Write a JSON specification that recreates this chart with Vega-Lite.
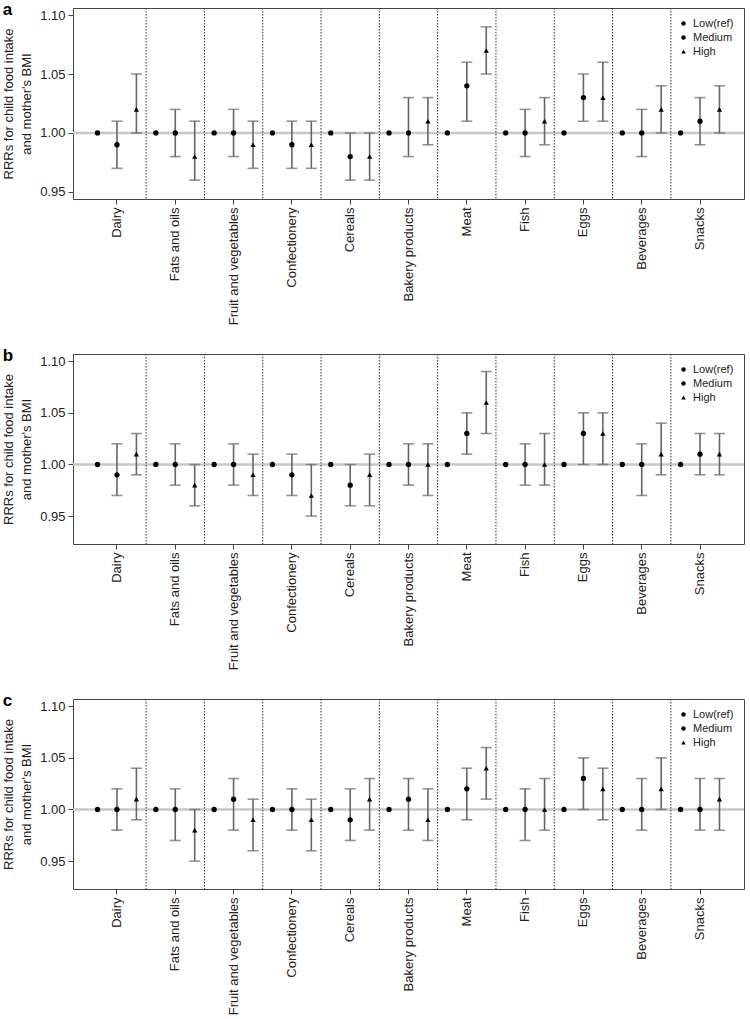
{
  "$schema": "https://vega.github.io/schema/vega-lite/v6.json",
  "padding": {"left": 2, "top": 0, "right": 1, "bottom": 0},
  "spacing": 20,
  "config": {
    "font": "Liberation Sans",
    "view": {"stroke": "#444", "strokeWidth": 1},
    "axis": {"labelFont": "Liberation Sans", "labelFontSize": 13, "labelColor": "#222", "titleFont": "Liberation Sans", "titleFontSize": 13, "titleFontWeight": "normal", "titleColor": "#222", "grid": false, "domain": false, "tickColor": "#444", "tickSize": 5},
    "title": {"anchor": "start", "frame": "bounds", "fontSize": 17, "fontWeight": "bold", "font": "Liberation Sans", "offset": -11, "baseline": "alphabetic", "color": "#000"},
    "legend": {"orient": "top-right", "offset": 10, "title": null, "labelFontSize": 11, "labelFont": "Liberation Sans", "labelColor": "#222", "symbolSize": 20, "rowPadding": 2, "padding": 0, "symbolFillColor": "#000", "symbolStrokeColor": "#000", "symbolStrokeWidth": 0}
  },
  "resolve": {"scale": {"y": "independent", "shape": "independent"}, "legend": {"shape": "independent"}},
  "datasets": {
    "a": [
      {"food": "Dairy", "level": "Low(ref)", "rr": 1.00},
      {"food": "Dairy", "level": "Medium", "rr": 0.99, "lo": 0.97, "hi": 1.01},
      {"food": "Dairy", "level": "High", "rr": 1.02, "lo": 1.00, "hi": 1.05},
      {"food": "Fats and oils", "level": "Low(ref)", "rr": 1.00},
      {"food": "Fats and oils", "level": "Medium", "rr": 1.00, "lo": 0.98, "hi": 1.02},
      {"food": "Fats and oils", "level": "High", "rr": 0.98, "lo": 0.96, "hi": 1.01},
      {"food": "Fruit and vegetables", "level": "Low(ref)", "rr": 1.00},
      {"food": "Fruit and vegetables", "level": "Medium", "rr": 1.00, "lo": 0.98, "hi": 1.02},
      {"food": "Fruit and vegetables", "level": "High", "rr": 0.99, "lo": 0.97, "hi": 1.01},
      {"food": "Confectionery", "level": "Low(ref)", "rr": 1.00},
      {"food": "Confectionery", "level": "Medium", "rr": 0.99, "lo": 0.97, "hi": 1.01},
      {"food": "Confectionery", "level": "High", "rr": 0.99, "lo": 0.97, "hi": 1.01},
      {"food": "Cereals", "level": "Low(ref)", "rr": 1.00},
      {"food": "Cereals", "level": "Medium", "rr": 0.98, "lo": 0.96, "hi": 1.00},
      {"food": "Cereals", "level": "High", "rr": 0.98, "lo": 0.96, "hi": 1.00},
      {"food": "Bakery products", "level": "Low(ref)", "rr": 1.00},
      {"food": "Bakery products", "level": "Medium", "rr": 1.00, "lo": 0.98, "hi": 1.03},
      {"food": "Bakery products", "level": "High", "rr": 1.01, "lo": 0.99, "hi": 1.03},
      {"food": "Meat", "level": "Low(ref)", "rr": 1.00},
      {"food": "Meat", "level": "Medium", "rr": 1.04, "lo": 1.01, "hi": 1.06},
      {"food": "Meat", "level": "High", "rr": 1.07, "lo": 1.05, "hi": 1.09},
      {"food": "Fish", "level": "Low(ref)", "rr": 1.00},
      {"food": "Fish", "level": "Medium", "rr": 1.00, "lo": 0.98, "hi": 1.02},
      {"food": "Fish", "level": "High", "rr": 1.01, "lo": 0.99, "hi": 1.03},
      {"food": "Eggs", "level": "Low(ref)", "rr": 1.00},
      {"food": "Eggs", "level": "Medium", "rr": 1.03, "lo": 1.01, "hi": 1.05},
      {"food": "Eggs", "level": "High", "rr": 1.03, "lo": 1.01, "hi": 1.06},
      {"food": "Beverages", "level": "Low(ref)", "rr": 1.00},
      {"food": "Beverages", "level": "Medium", "rr": 1.00, "lo": 0.98, "hi": 1.02},
      {"food": "Beverages", "level": "High", "rr": 1.02, "lo": 1.00, "hi": 1.04},
      {"food": "Snacks", "level": "Low(ref)", "rr": 1.00},
      {"food": "Snacks", "level": "Medium", "rr": 1.01, "lo": 0.99, "hi": 1.03},
      {"food": "Snacks", "level": "High", "rr": 1.02, "lo": 1.00, "hi": 1.04}
    ],
    "b": [
      {"food": "Dairy", "level": "Low(ref)", "rr": 1.00},
      {"food": "Dairy", "level": "Medium", "rr": 0.99, "lo": 0.97, "hi": 1.02},
      {"food": "Dairy", "level": "High", "rr": 1.01, "lo": 0.99, "hi": 1.03},
      {"food": "Fats and oils", "level": "Low(ref)", "rr": 1.00},
      {"food": "Fats and oils", "level": "Medium", "rr": 1.00, "lo": 0.98, "hi": 1.02},
      {"food": "Fats and oils", "level": "High", "rr": 0.98, "lo": 0.96, "hi": 1.00},
      {"food": "Fruit and vegetables", "level": "Low(ref)", "rr": 1.00},
      {"food": "Fruit and vegetables", "level": "Medium", "rr": 1.00, "lo": 0.98, "hi": 1.02},
      {"food": "Fruit and vegetables", "level": "High", "rr": 0.99, "lo": 0.97, "hi": 1.01},
      {"food": "Confectionery", "level": "Low(ref)", "rr": 1.00},
      {"food": "Confectionery", "level": "Medium", "rr": 0.99, "lo": 0.97, "hi": 1.01},
      {"food": "Confectionery", "level": "High", "rr": 0.97, "lo": 0.95, "hi": 1.00},
      {"food": "Cereals", "level": "Low(ref)", "rr": 1.00},
      {"food": "Cereals", "level": "Medium", "rr": 0.98, "lo": 0.96, "hi": 1.00},
      {"food": "Cereals", "level": "High", "rr": 0.99, "lo": 0.96, "hi": 1.01},
      {"food": "Bakery products", "level": "Low(ref)", "rr": 1.00},
      {"food": "Bakery products", "level": "Medium", "rr": 1.00, "lo": 0.98, "hi": 1.02},
      {"food": "Bakery products", "level": "High", "rr": 1.00, "lo": 0.97, "hi": 1.02},
      {"food": "Meat", "level": "Low(ref)", "rr": 1.00},
      {"food": "Meat", "level": "Medium", "rr": 1.03, "lo": 1.01, "hi": 1.05},
      {"food": "Meat", "level": "High", "rr": 1.06, "lo": 1.03, "hi": 1.09},
      {"food": "Fish", "level": "Low(ref)", "rr": 1.00},
      {"food": "Fish", "level": "Medium", "rr": 1.00, "lo": 0.98, "hi": 1.02},
      {"food": "Fish", "level": "High", "rr": 1.00, "lo": 0.98, "hi": 1.03},
      {"food": "Eggs", "level": "Low(ref)", "rr": 1.00},
      {"food": "Eggs", "level": "Medium", "rr": 1.03, "lo": 1.00, "hi": 1.05},
      {"food": "Eggs", "level": "High", "rr": 1.03, "lo": 1.00, "hi": 1.05},
      {"food": "Beverages", "level": "Low(ref)", "rr": 1.00},
      {"food": "Beverages", "level": "Medium", "rr": 1.00, "lo": 0.97, "hi": 1.02},
      {"food": "Beverages", "level": "High", "rr": 1.01, "lo": 0.99, "hi": 1.04},
      {"food": "Snacks", "level": "Low(ref)", "rr": 1.00},
      {"food": "Snacks", "level": "Medium", "rr": 1.01, "lo": 0.99, "hi": 1.03},
      {"food": "Snacks", "level": "High", "rr": 1.01, "lo": 0.99, "hi": 1.03}
    ],
    "c": [
      {"food": "Dairy", "level": "Low(ref)", "rr": 1.00},
      {"food": "Dairy", "level": "Medium", "rr": 1.00, "lo": 0.98, "hi": 1.02},
      {"food": "Dairy", "level": "High", "rr": 1.01, "lo": 0.99, "hi": 1.04},
      {"food": "Fats and oils", "level": "Low(ref)", "rr": 1.00},
      {"food": "Fats and oils", "level": "Medium", "rr": 1.00, "lo": 0.97, "hi": 1.02},
      {"food": "Fats and oils", "level": "High", "rr": 0.98, "lo": 0.95, "hi": 1.00},
      {"food": "Fruit and vegetables", "level": "Low(ref)", "rr": 1.00},
      {"food": "Fruit and vegetables", "level": "Medium", "rr": 1.01, "lo": 0.98, "hi": 1.03},
      {"food": "Fruit and vegetables", "level": "High", "rr": 0.99, "lo": 0.96, "hi": 1.01},
      {"food": "Confectionery", "level": "Low(ref)", "rr": 1.00},
      {"food": "Confectionery", "level": "Medium", "rr": 1.00, "lo": 0.98, "hi": 1.02},
      {"food": "Confectionery", "level": "High", "rr": 0.99, "lo": 0.96, "hi": 1.01},
      {"food": "Cereals", "level": "Low(ref)", "rr": 1.00},
      {"food": "Cereals", "level": "Medium", "rr": 0.99, "lo": 0.97, "hi": 1.02},
      {"food": "Cereals", "level": "High", "rr": 1.01, "lo": 0.98, "hi": 1.03},
      {"food": "Bakery products", "level": "Low(ref)", "rr": 1.00},
      {"food": "Bakery products", "level": "Medium", "rr": 1.01, "lo": 0.98, "hi": 1.03},
      {"food": "Bakery products", "level": "High", "rr": 0.99, "lo": 0.97, "hi": 1.02},
      {"food": "Meat", "level": "Low(ref)", "rr": 1.00},
      {"food": "Meat", "level": "Medium", "rr": 1.02, "lo": 0.99, "hi": 1.04},
      {"food": "Meat", "level": "High", "rr": 1.04, "lo": 1.01, "hi": 1.06},
      {"food": "Fish", "level": "Low(ref)", "rr": 1.00},
      {"food": "Fish", "level": "Medium", "rr": 1.00, "lo": 0.97, "hi": 1.02},
      {"food": "Fish", "level": "High", "rr": 1.00, "lo": 0.98, "hi": 1.03},
      {"food": "Eggs", "level": "Low(ref)", "rr": 1.00},
      {"food": "Eggs", "level": "Medium", "rr": 1.03, "lo": 1.00, "hi": 1.05},
      {"food": "Eggs", "level": "High", "rr": 1.02, "lo": 0.99, "hi": 1.04},
      {"food": "Beverages", "level": "Low(ref)", "rr": 1.00},
      {"food": "Beverages", "level": "Medium", "rr": 1.00, "lo": 0.98, "hi": 1.03},
      {"food": "Beverages", "level": "High", "rr": 1.02, "lo": 1.00, "hi": 1.05},
      {"food": "Snacks", "level": "Low(ref)", "rr": 1.00},
      {"food": "Snacks", "level": "Medium", "rr": 1.00, "lo": 0.98, "hi": 1.03},
      {"food": "Snacks", "level": "High", "rr": 1.01, "lo": 0.98, "hi": 1.03}
    ]
  },
  "vconcat": [
    {
      "data": {"name": "a"},
      "title": {"text": "a"},
      "width": 671, "height": 191,
      "encoding": {
        "x": {"field": "food", "type": "nominal", "sort": null, "scale": {"domain": ["Dairy","Fats and oils","Fruit and vegetables","Confectionery","Cereals","Bakery products","Meat","Fish","Eggs","Beverages","Snacks"], "paddingInner": 0, "paddingOuter": 0.254}, "axis": {"title": null, "labelAngle": -90, "labelPadding": 3, "labelAlign": "right", "labelBaseline": "middle"}}
      },
      "layer": [
        {"data": {"values": [{"ref": 1}]}, "mark": {"type": "rule", "color": "#c8c8c8", "strokeWidth": 2.5}, "encoding": {"x": null, "y": {"field": "ref", "type": "quantitative", "scale": {"domain": [0.944, 1.106], "nice": false, "zero": false}, "axis": {"values": [0.95, 1.0, 1.05, 1.1], "format": ".2f", "tickSize": 5, "labelPadding": 3, "title": ["RRRs for child food intake", "and mother's BMI"], "titlePadding": 6, "titleLineHeight": 18}}}},
        {"transform": [{"filter": "datum.level === 'Low(ref)' && datum.food !== 'Dairy'"}], "mark": {"type": "rule", "color": "#333", "strokeWidth": 1, "strokeDash": [1.5, 1.5]}, "encoding": {"x": {"field": "food", "type": "nominal", "sort": null, "bandPosition": 0}}},
        {"transform": [{"filter": "datum.level !== 'Low(ref)'"}], "mark": {"type": "rule", "color": "#666", "strokeWidth": 1.6}, "encoding": {"xOffset": {"field": "level", "type": "nominal", "scale": {"domain": ["Low(ref)", "Medium", "High"], "paddingInner": 0, "paddingOuter": 0}}, "y": {"field": "lo", "type": "quantitative"}, "y2": {"field": "hi"}}},
        {"transform": [{"filter": "datum.level !== 'Low(ref)'"}], "mark": {"type": "tick", "color": "#666", "thickness": 1.6, "size": 11, "orient": "horizontal"}, "encoding": {"xOffset": {"field": "level", "type": "nominal"}, "y": {"field": "lo", "type": "quantitative"}}},
        {"transform": [{"filter": "datum.level !== 'Low(ref)'"}], "mark": {"type": "tick", "color": "#666", "thickness": 1.6, "size": 11, "orient": "horizontal"}, "encoding": {"xOffset": {"field": "level", "type": "nominal"}, "y": {"field": "hi", "type": "quantitative"}}},
        {"mark": {"type": "point", "filled": true, "color": "#000", "size": 28, "opacity": 1}, "encoding": {"xOffset": {"field": "level", "type": "nominal"}, "y": {"field": "rr", "type": "quantitative"}, "shape": {"field": "level", "type": "nominal", "sort": null, "scale": {"domain": ["Low(ref)", "Medium", "High"], "range": ["circle", "circle", "triangle-up"]}}}}
      ]
    },
    {
      "data": {"name": "b"},
      "title": {"text": "b"},
      "width": 671, "height": 190,
      "encoding": {
        "x": {"field": "food", "type": "nominal", "sort": null, "scale": {"domain": ["Dairy","Fats and oils","Fruit and vegetables","Confectionery","Cereals","Bakery products","Meat","Fish","Eggs","Beverages","Snacks"], "paddingInner": 0, "paddingOuter": 0.254}, "axis": {"title": null, "labelAngle": -90, "labelPadding": 3, "labelAlign": "right", "labelBaseline": "middle"}}
      },
      "layer": [
        {"data": {"values": [{"ref": 1}]}, "mark": {"type": "rule", "color": "#c8c8c8", "strokeWidth": 2.5}, "encoding": {"x": null, "y": {"field": "ref", "type": "quantitative", "scale": {"domain": [0.923, 1.107], "nice": false, "zero": false}, "axis": {"values": [0.95, 1.0, 1.05, 1.1], "format": ".2f", "tickSize": 5, "labelPadding": 3, "title": ["RRRs for child food intake", "and mother's BMI"], "titlePadding": 6, "titleLineHeight": 18}}}},
        {"transform": [{"filter": "datum.level === 'Low(ref)' && datum.food !== 'Dairy'"}], "mark": {"type": "rule", "color": "#333", "strokeWidth": 1, "strokeDash": [1.5, 1.5]}, "encoding": {"x": {"field": "food", "type": "nominal", "sort": null, "bandPosition": 0}}},
        {"transform": [{"filter": "datum.level !== 'Low(ref)'"}], "mark": {"type": "rule", "color": "#666", "strokeWidth": 1.6}, "encoding": {"xOffset": {"field": "level", "type": "nominal", "scale": {"domain": ["Low(ref)", "Medium", "High"], "paddingInner": 0, "paddingOuter": 0}}, "y": {"field": "lo", "type": "quantitative"}, "y2": {"field": "hi"}}},
        {"transform": [{"filter": "datum.level !== 'Low(ref)'"}], "mark": {"type": "tick", "color": "#666", "thickness": 1.6, "size": 11, "orient": "horizontal"}, "encoding": {"xOffset": {"field": "level", "type": "nominal"}, "y": {"field": "lo", "type": "quantitative"}}},
        {"transform": [{"filter": "datum.level !== 'Low(ref)'"}], "mark": {"type": "tick", "color": "#666", "thickness": 1.6, "size": 11, "orient": "horizontal"}, "encoding": {"xOffset": {"field": "level", "type": "nominal"}, "y": {"field": "hi", "type": "quantitative"}}},
        {"mark": {"type": "point", "filled": true, "color": "#000", "size": 28, "opacity": 1}, "encoding": {"xOffset": {"field": "level", "type": "nominal"}, "y": {"field": "rr", "type": "quantitative"}, "shape": {"field": "level", "type": "nominal", "sort": null, "scale": {"domain": ["Low(ref)", "Medium", "High"], "range": ["circle", "circle", "triangle-up"]}}}}
      ]
    },
    {
      "data": {"name": "c"},
      "title": {"text": "c"},
      "width": 671, "height": 190,
      "encoding": {
        "x": {"field": "food", "type": "nominal", "sort": null, "scale": {"domain": ["Dairy","Fats and oils","Fruit and vegetables","Confectionery","Cereals","Bakery products","Meat","Fish","Eggs","Beverages","Snacks"], "paddingInner": 0, "paddingOuter": 0.254}, "axis": {"title": null, "labelAngle": -90, "labelPadding": 3, "labelAlign": "right", "labelBaseline": "middle"}}
      },
      "layer": [
        {"data": {"values": [{"ref": 1}]}, "mark": {"type": "rule", "color": "#c8c8c8", "strokeWidth": 2.5}, "encoding": {"x": null, "y": {"field": "ref", "type": "quantitative", "scale": {"domain": [0.923, 1.107], "nice": false, "zero": false}, "axis": {"values": [0.95, 1.0, 1.05, 1.1], "format": ".2f", "tickSize": 5, "labelPadding": 3, "title": ["RRRs for child food intake", "and mother's BMI"], "titlePadding": 6, "titleLineHeight": 18}}}},
        {"transform": [{"filter": "datum.level === 'Low(ref)' && datum.food !== 'Dairy'"}], "mark": {"type": "rule", "color": "#333", "strokeWidth": 1, "strokeDash": [1.5, 1.5]}, "encoding": {"x": {"field": "food", "type": "nominal", "sort": null, "bandPosition": 0}}},
        {"transform": [{"filter": "datum.level !== 'Low(ref)'"}], "mark": {"type": "rule", "color": "#666", "strokeWidth": 1.6}, "encoding": {"xOffset": {"field": "level", "type": "nominal", "scale": {"domain": ["Low(ref)", "Medium", "High"], "paddingInner": 0, "paddingOuter": 0}}, "y": {"field": "lo", "type": "quantitative"}, "y2": {"field": "hi"}}},
        {"transform": [{"filter": "datum.level !== 'Low(ref)'"}], "mark": {"type": "tick", "color": "#666", "thickness": 1.6, "size": 11, "orient": "horizontal"}, "encoding": {"xOffset": {"field": "level", "type": "nominal"}, "y": {"field": "lo", "type": "quantitative"}}},
        {"transform": [{"filter": "datum.level !== 'Low(ref)'"}], "mark": {"type": "tick", "color": "#666", "thickness": 1.6, "size": 11, "orient": "horizontal"}, "encoding": {"xOffset": {"field": "level", "type": "nominal"}, "y": {"field": "hi", "type": "quantitative"}}},
        {"mark": {"type": "point", "filled": true, "color": "#000", "size": 28, "opacity": 1}, "encoding": {"xOffset": {"field": "level", "type": "nominal"}, "y": {"field": "rr", "type": "quantitative"}, "shape": {"field": "level", "type": "nominal", "sort": null, "scale": {"domain": ["Low(ref)", "Medium", "High"], "range": ["circle", "circle", "triangle-up"]}}}}
      ]
    }
  ]
}
